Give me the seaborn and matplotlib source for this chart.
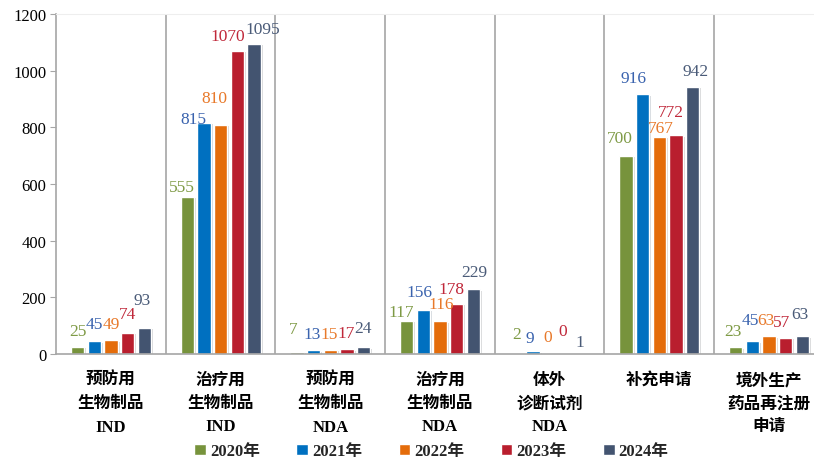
import pandas as pd
import numpy as np
import matplotlib.pyplot as plt
import matplotlib.patheffects as pe
import seaborn as sns

# 数据
categories = ['预防用\n生物制品\nIND', '治疗用\n生物制品\nIND', '预防用\n生物制品\nNDA',
              '治疗用\n生物制品\nNDA', '体外\n诊断试剂\nNDA', '补充申请', '境外生产\n药品再注册\n申请']
years = ['2020年', '2021年', '2022年', '2023年', '2024年']
v2020 = [25, 555, 7, 117, 2, 700, 23]
v2021 = [45, 815, 13, 156, 9, 916, 45]
v2022 = [49, 810, 15, 116, 0, 767, 63]
v2023 = [74, 1070, 17, 178, 0, 772, 57]
v2024 = [93, 1095, 24, 229, 1, 942, 63]
series = [v2020, v2021, v2022, v2023, v2024]

bar_colors = ['#77933C', '#0070C0', '#E46C0A', '#B91E2E', '#435470']
label_colors = ['#7E9A45', '#3A63AE', '#E8792A', '#C0283A', '#4A5B78']

# 标签偏移 (dx, dy) 像素，按类别、年份
label_offsets = [
    [(0, 16), (0, 17), (0, 16), (0, 19), (-2, 28)],
    [(-5, 10), (-10, 4), (-6, 26), (-9, 15), (9, 15)],
    [(-4, 23), (-1, 16), (-1, 16), (-1, 16), (-1, 19)],
    [(-5, 9), (-4, 18), (1, 17), (-5, 15), (1, 17)],
    [(0, 19), (-3, 13), (-2, 17), (-4, 23), (-3, 12)],
    [(-6, 18), (-9, 16.5), (1, 9), (-5, 23), (3, 16.5)],
    [(-3, 16), (-2, 21), (-3, 16), (-4, 16), (-2, 22)],
]

df = pd.DataFrame({'cat': categories * 5,
                   'year': np.repeat(years, len(categories)),
                   'val': v2020 + v2021 + v2022 + v2023 + v2024})

sns.set_style('white')
plt.rcParams['font.family'] = ['Liberation Serif', 'Noto Sans CJK SC', 'DejaVu Sans']

fig = plt.figure(figsize=(8.14, 4.6), dpi=100)
ax = fig.add_axes([56 / 814, 105 / 460, 758 / 814, 340 / 460])

sns.barplot(data=df, x='cat', y='val', hue='year', palette=bar_colors, saturation=1,
            width=0.76, gap=0.2, ax=ax, legend=True)

# 数值标签
for i, cont in enumerate(ax.containers):
    for j, bar in enumerate(cont):
        bar.set_path_effects([pe.SimplePatchShadow(offset=(1.5, -1), alpha=0.18), pe.Normal()])
        dx, dy = label_offsets[j][i]
        x = bar.get_x() + bar.get_width() / 2
        ax.annotate(str(series[i][j]), (x, bar.get_height()), xytext=(dx * 0.72, dy * 0.72),
                    textcoords='offset points', ha='center', va='center',
                    fontsize=12.5, color=label_colors[i],
                    family=['Liberation Serif'])

ax.set_ylim(0, 1200)
ax.set_xlim(-0.5, 6.41)
ax.set_yticks(range(0, 1201, 200))
ax.set_xlabel('')
ax.set_ylabel('')

for x in np.arange(0.5, 6.5, 1):
    ax.axvline(x, color='#A6A6A6', lw=1.2)

ax.spines['right'].set_visible(False)
ax.spines['top'].set_color('#EEEEEE')
ax.spines['left'].set_color('#A6A6A6')
ax.spines['left'].set_linewidth(1.2)
ax.spines['bottom'].set_color('#A6A6A6')
ax.spines['bottom'].set_linewidth(1.2)

ax.tick_params(axis='y', length=4, color='#A6A6A6', labelsize=12, labelcolor='black',
               pad=3, left=True)
ax.tick_params(axis='x', length=0, pad=13, labelcolor='black')
for t in ax.get_yticklabels():
    t.set_family(['Liberation Serif'])
ax.set_xticks(range(len(categories)))
ax.set_xticklabels(categories, fontsize=12, fontweight='bold', linespacing=1.6,
                   va='top', family=['Liberation Serif', 'Noto Sans CJK SC'])

handles, labels = ax.get_legend_handles_labels()
ax.legend(handles, labels, ncol=5, loc='center', bbox_to_anchor=(0.53, 0.017),
          bbox_transform=fig.transFigure, frameon=False,
          handlelength=0.7, handleheight=0.7, handletextpad=0.25, columnspacing=2.18,
          prop={'family': ['Liberation Serif', 'Noto Sans CJK SC'], 'weight': 'bold', 'size': 12})

plt.savefig('out.png', dpi=100)
